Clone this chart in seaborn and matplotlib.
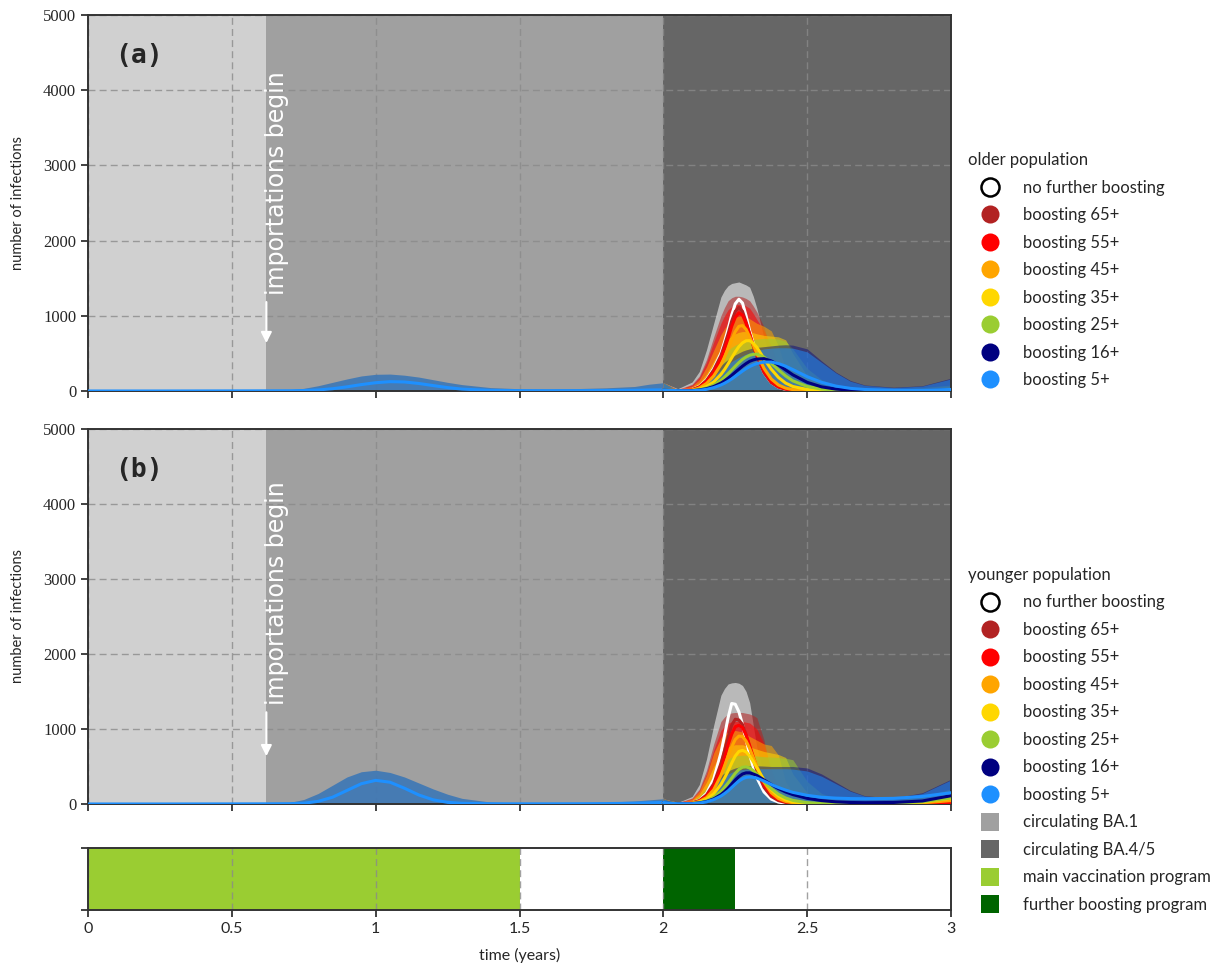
import matplotlib
matplotlib.use("Agg")
import matplotlib.pyplot as plt
from matplotlib.lines import Line2D
import pandas as pd
import seaborn as sns

# ---------------- data ----------------
T_PRE = [0, 0.25, 0.5, 0.62, 0.7, 0.75, 0.8, 0.85, 0.9, 0.95, 1.0, 1.05, 1.1, 1.15,
         1.2, 1.25, 1.3, 1.4, 1.5, 1.6, 1.7, 1.8, 1.9, 1.95, 2.0]
T_POST = [2.0, 2.05, 2.1, 2.125, 2.15, 2.175, 2.2, 2.2125, 2.225, 2.2375, 2.25, 2.2625,
          2.275, 2.2875, 2.3, 2.3125, 2.325, 2.35, 2.375, 2.4, 2.425, 2.45, 2.5, 2.55,
          2.6, 2.65, 2.7, 2.8, 2.9, 3.0]

SCENARIOS = ["no further boosting", "boosting 65+", "boosting 55+", "boosting 45+",
             "boosting 35+", "boosting 25+", "boosting 16+", "boosting 5+"]

# panel (a): older population
A_PRE_MEAN = [0, 0, 1, 2, 3, 6, 14, 30, 55, 85, 110, 124, 120, 100, 72, 45, 25, 8, 4, 3, 4, 6, 10, 13, 15]
A_PRE_UPPER = [8, 8, 8, 8, 15, 35, 70, 115, 160, 200, 222, 225, 210, 185, 150, 115, 85, 45, 30, 28, 32, 42, 60, 90, 110]

A_NONE_MEAN = [15, 5, 20, 60, 150, 300, 500, 650, 820, 1010, 1160, 1220, 1170, 1000, 800, 630, 480, 240, 110, 50, 20, 8, 3, 2, 2, 2, 2, 3, 5, 8]
A_65_MEAN = [15, 4, 18, 55, 140, 280, 470, 610, 760, 930, 1060, 1110, 1060, 920, 760, 600, 460, 240, 110, 50, 22, 10, 4, 2, 2, 2, 2, 3, 5, 8]
A_55_MEAN = [15, 4, 15, 50, 125, 250, 430, 560, 700, 860, 980, 1040, 1010, 900, 760, 610, 480, 260, 125, 60, 28, 12, 5, 3, 2, 2, 2, 3, 5, 9]
A_45_MEAN = [15, 4, 12, 40, 100, 200, 350, 450, 560, 680, 790, 860, 870, 820, 720, 610, 500, 300, 160, 80, 38, 18, 6, 3, 2, 2, 2, 3, 6, 10]
A_35_MEAN = [15, 4, 8, 25, 60, 120, 220, 285, 360, 440, 520, 590, 640, 668, 670, 635, 580, 430, 290, 180, 105, 60, 20, 8, 4, 3, 3, 4, 7, 12]
A_25_MEAN = [15, 4, 6, 18, 40, 80, 140, 182, 230, 280, 330, 378, 420, 452, 475, 487, 490, 450, 370, 280, 200, 135, 60, 25, 10, 5, 4, 5, 8, 14]
A_16_MEAN = [15, 4, 5, 14, 30, 60, 105, 135, 170, 208, 250, 290, 330, 365, 395, 413, 425, 430, 400, 345, 280, 215, 115, 55, 25, 12, 7, 6, 10, 18]
A_5_MEAN = [15, 4, 3, 10, 22, 45, 80, 103, 130, 160, 195, 230, 265, 297, 325, 347, 365, 385, 385, 365, 330, 285, 190, 115, 65, 35, 20, 10, 12, 20]

A_NONE_UPPER = [110, 30, 120, 260, 550, 900, 1250, 1340, 1400, 1430, 1440, 1450, 1430, 1410, 1380, 1260, 1100, 700, 400, 200, 100, 50, 25, 15, 10, 10, 10, 15, 20, 30]
A_65_UPPER = [110, 20, 90, 200, 420, 720, 1000, 1110, 1200, 1240, 1260, 1260, 1250, 1230, 1200, 1130, 1050, 850, 500, 250, 120, 60, 25, 12, 10, 10, 10, 15, 20, 30]
A_55_UPPER = [110, 15, 80, 180, 380, 650, 900, 1000, 1080, 1120, 1150, 1150, 1150, 1130, 1100, 1030, 950, 800, 600, 300, 150, 70, 30, 15, 10, 10, 10, 15, 20, 35]
A_45_UPPER = [110, 12, 65, 150, 320, 540, 750, 830, 900, 950, 980, 995, 1000, 985, 960, 930, 900, 860, 800, 600, 300, 150, 50, 25, 15, 12, 12, 18, 25, 45]
A_35_UPPER = [110, 10, 50, 110, 230, 400, 560, 630, 690, 730, 760, 780, 790, 790, 790, 775, 760, 740, 730, 720, 680, 500, 200, 80, 40, 25, 20, 22, 35, 60]
A_25_UPPER = [110, 8, 40, 90, 180, 310, 440, 495, 540, 580, 610, 632, 650, 667, 680, 686, 690, 700, 700, 690, 660, 560, 300, 150, 80, 50, 35, 30, 45, 80]
A_16_UPPER = [110, 6, 30, 70, 140, 240, 340, 382, 420, 452, 480, 506, 530, 547, 560, 571, 580, 590, 600, 610, 615, 610, 560, 400, 250, 140, 80, 50, 70, 170]
A_5_UPPER = [110, 5, 25, 55, 110, 190, 280, 322, 360, 392, 420, 446, 470, 491, 510, 526, 540, 560, 570, 575, 575, 570, 520, 380, 240, 130, 75, 45, 65, 160]

# panel (b): younger population
B_PRE_MEAN = [0, 0, 1, 2, 4, 10, 35, 90, 180, 270, 315, 290, 210, 120, 55, 22, 9, 3, 2, 2, 3, 5, 10, 15, 20]
B_PRE_UPPER = [8, 8, 8, 8, 20, 60, 140, 250, 360, 430, 450, 420, 360, 280, 200, 130, 75, 25, 12, 10, 15, 25, 40, 55, 70]

B_NONE_MEAN = [20, 3, 15, 50, 140, 330, 680, 910, 1150, 1340, 1330, 1230, 1060, 860, 660, 490, 350, 160, 65, 25, 10, 5, 2, 1, 1, 1, 1, 2, 3, 5]
B_65_MEAN = [20, 3, 15, 45, 120, 270, 540, 710, 890, 1050, 1130, 1120, 1060, 920, 760, 600, 440, 220, 100, 45, 20, 9, 3, 2, 1, 1, 1, 2, 4, 8]
B_55_MEAN = [20, 3, 13, 40, 105, 235, 470, 620, 790, 930, 1030, 1050, 1020, 920, 780, 630, 480, 260, 125, 58, 27, 12, 4, 2, 2, 2, 2, 3, 6, 12]
B_45_MEAN = [20, 3, 11, 33, 85, 190, 380, 505, 640, 760, 860, 905, 900, 840, 740, 620, 500, 290, 150, 72, 34, 16, 5, 3, 2, 2, 3, 6, 15, 45]
B_35_MEAN = [20, 3, 8, 25, 62, 135, 260, 345, 440, 545, 640, 700, 715, 695, 640, 565, 480, 320, 190, 105, 55, 28, 8, 3, 2, 2, 3, 8, 25, 75]
B_25_MEAN = [20, 3, 6, 18, 42, 88, 165, 220, 280, 345, 410, 460, 490, 495, 480, 445, 400, 300, 205, 130, 80, 48, 17, 7, 4, 3, 4, 10, 30, 80]
B_16_MEAN = [20, 3, 5, 14, 33, 68, 125, 165, 210, 265, 320, 365, 400, 415, 415, 400, 380, 320, 260, 205, 160, 125, 75, 45, 28, 20, 17, 20, 40, 110]
B_5_MEAN = [20, 3, 4, 12, 28, 58, 105, 138, 175, 220, 265, 305, 335, 355, 360, 355, 345, 305, 260, 220, 185, 155, 115, 90, 78, 72, 70, 75, 100, 150]

B_NONE_UPPER = [70, 20, 100, 260, 600, 1050, 1450, 1540, 1600, 1615, 1620, 1610, 1580, 1500, 1350, 1050, 750, 380, 200, 100, 50, 25, 12, 8, 6, 6, 8, 12, 20, 40]
B_65_UPPER = [70, 15, 80, 200, 450, 800, 1100, 1160, 1200, 1215, 1220, 1220, 1220, 1210, 1200, 1180, 1150, 850, 400, 180, 80, 40, 18, 10, 8, 8, 10, 15, 25, 50]
B_55_UPPER = [70, 12, 70, 180, 400, 720, 980, 1040, 1080, 1095, 1100, 1100, 1100, 1090, 1080, 1040, 1000, 800, 450, 200, 90, 45, 20, 12, 10, 10, 12, 18, 30, 60]
B_45_UPPER = [70, 12, 65, 170, 380, 680, 880, 930, 960, 975, 980, 970, 960, 930, 900, 875, 850, 800, 780, 650, 300, 150, 60, 30, 20, 15, 15, 25, 50, 110]
B_35_UPPER = [70, 10, 50, 130, 290, 500, 680, 725, 760, 780, 790, 790, 790, 775, 760, 745, 730, 700, 680, 660, 620, 400, 150, 70, 40, 30, 25, 35, 70, 150]
B_25_UPPER = [70, 8, 40, 100, 220, 380, 520, 565, 600, 625, 640, 646, 650, 650, 650, 645, 640, 630, 625, 620, 610, 590, 300, 140, 80, 50, 40, 50, 100, 200]
B_16_UPPER = [70, 6, 30, 75, 160, 280, 380, 413, 440, 462, 480, 492, 500, 506, 510, 510, 510, 505, 500, 500, 500, 500, 480, 400, 290, 180, 110, 80, 150, 330]
B_5_UPPER = [70, 5, 25, 60, 130, 240, 340, 372, 400, 422, 440, 452, 460, 466, 470, 470, 470, 470, 470, 470, 470, 465, 440, 370, 270, 170, 105, 75, 140, 320]

# background periods and programs
PERIOD_START = [0.0, 0.62, 2.0]
PERIOD_END = [0.62, 2.0, 3.0]
PROGRAM_LABELS = ["main vaccination program", "further boosting program"]
PROGRAM_START = [0.0, 2.0]
PROGRAM_END = [1.5, 2.25]
IMPORT_TIME = 0.62

X_TICKS = [0, 0.5, 1, 1.5, 2, 2.5, 3]
X_TICK_LABELS = ["0", "0.5", "1", "1.5", "2", "2.5", "3"]
Y_TICKS = [0, 1000, 2000, 3000, 4000, 5000]

# ---------------- style ----------------
COLORS = ["white", "firebrick", "red", "orange", "gold", "yellowgreen", "navy", "dodgerblue"]
BAND_ALPHA = [0.55, 0.55, 0.55, 0.55, 0.55, 0.55, 0.45, 0.5]
PERIOD_COLORS = ["#d0d0d0", "#a0a0a0", "#666666"]
PROGRAM_COLORS = ["yellowgreen", "darkgreen"]
SPINE = "#333333"

sns.set_style("ticks")
plt.rcParams["font.family"] = ["Lato", "DejaVu Sans"]

fig = plt.figure(figsize=(12.24, 9.69), dpi=100)
ax_a = fig.add_axes([0.0719, 0.5965, 0.7051, 0.3880])
ax_b = fig.add_axes([0.0719, 0.1703, 0.7051, 0.3870])
ax_s = fig.add_axes([0.0719, 0.0609, 0.7051, 0.0640])

A_MEANS = [A_NONE_MEAN, A_65_MEAN, A_55_MEAN, A_45_MEAN, A_35_MEAN, A_25_MEAN, A_16_MEAN, A_5_MEAN]
A_UPPERS = [A_NONE_UPPER, A_65_UPPER, A_55_UPPER, A_45_UPPER, A_35_UPPER, A_25_UPPER, A_16_UPPER, A_5_UPPER]
B_MEANS = [B_NONE_MEAN, B_65_MEAN, B_55_MEAN, B_45_MEAN, B_35_MEAN, B_25_MEAN, B_16_MEAN, B_5_MEAN]
B_UPPERS = [B_NONE_UPPER, B_65_UPPER, B_55_UPPER, B_45_UPPER, B_35_UPPER, B_25_UPPER, B_16_UPPER, B_5_UPPER]


def long_df(means):
    rows = []
    for name, arr in zip(SCENARIOS, means):
        for t, v in zip(T_POST, arr):
            rows.append({"t": t, "v": v, "scenario": name})
    return pd.DataFrame(rows)


def style_axes(ax):
    ax.set_xlim(0, 3)
    for sp in ax.spines.values():
        sp.set_visible(True)
        sp.set_color(SPINE)
        sp.set_linewidth(1.4)
    ax.set_axisbelow(True)
    ax.tick_params(direction="out", length=5, width=1.3, color=SPINE)


def panel(ax, pre_mean, pre_upper, means, uppers, label, text_y):
    for s, e, c in zip(PERIOD_START, PERIOD_END, PERIOD_COLORS):
        ax.axvspan(s, e, color=c, lw=0, zorder=0)
    ax.fill_between(T_PRE, 0, pre_upper, color="#3f78b5", alpha=0.92, lw=0, zorder=1)
    for up, c, a in zip(uppers, COLORS, BAND_ALPHA):
        ax.fill_between(T_POST, 0, up, color=c, alpha=a, lw=0, zorder=1)
    sns.lineplot(x=T_PRE, y=pre_mean, color="dodgerblue", lw=2.2, ax=ax, zorder=3)
    sns.lineplot(data=long_df(means), x="t", y="v", hue="scenario", hue_order=SCENARIOS,
                 palette=dict(zip(SCENARIOS, COLORS)), lw=2.2, legend=False,
                 estimator=None, sort=False, ax=ax, zorder=3)
    ax.set_ylim(0, 5000)
    ax.set_xticks(X_TICKS)
    ax.set_xticklabels([])
    ax.set_yticks(Y_TICKS)
    ax.set_yticklabels([str(v) for v in Y_TICKS], fontfamily="Liberation Serif", fontsize=12)
    ax.grid(True, linestyle=(0, (5, 3)), color="#8a8a8a", lw=1.0, alpha=0.8)
    ax.set_xlabel("")
    ax.set_ylabel("number of infections", fontsize=10.5)
    ax.yaxis.set_label_coords(-0.073, 0.5)
    style_axes(ax)
    ax.text(0.031, 0.891, label, transform=ax.transAxes, fontsize=19, fontweight="bold",
            family="DejaVu Sans Mono", ha="left", va="center", zorder=5)
    ax.annotate("", xy=(IMPORT_TIME, 600), xytext=(IMPORT_TIME, text_y - 60),
                arrowprops=dict(arrowstyle="-|>", color="white", lw=1.5, mutation_scale=16),
                zorder=5)
    ax.text(IMPORT_TIME + 0.037, text_y, "importations begin", rotation=90, color="white",
            fontsize=17, family="DejaVu Sans", ha="left", va="center",
            rotation_mode="anchor", zorder=5)


panel(ax_a, A_PRE_MEAN, A_PRE_UPPER, A_MEANS, A_UPPERS, "(a)", 1280)
panel(ax_b, B_PRE_MEAN, B_PRE_UPPER, B_MEANS, B_UPPERS, "(b)", 1320)

# program strip
for s, e, c in zip(PROGRAM_START, PROGRAM_END, PROGRAM_COLORS):
    ax_s.axvspan(s, e, color=c, lw=0, zorder=0)
ax_s.set_ylim(0, 1)
ax_s.set_yticks([0, 1])
ax_s.set_yticklabels([])
ax_s.set_xticks(X_TICKS)
ax_s.set_xticklabels(X_TICK_LABELS, fontsize=11.5)
ax_s.grid(True, axis="x", linestyle=(0, (5, 3)), color="#8a8a8a", lw=1.0, alpha=0.8)
style_axes(ax_s)
ax_s.set_xlabel("time (years)", fontsize=11.5, labelpad=9)

# legends
def circle(c, edge):
    return Line2D([], [], ls="", marker="o", markersize=13, markerfacecolor=c,
                  markeredgecolor=edge, markeredgewidth=1.8 if c == "white" else 0)


def square(c):
    return Line2D([], [], ls="", marker="s", markersize=13, markerfacecolor=c,
                  markeredgewidth=0)

LEG_KW = dict(loc="upper left", frameon=False, fontsize=12, title_fontsize=12,
              labelspacing=0.69, handlelength=2.6, handletextpad=0.7, borderpad=0.2)

h_a = [circle(c, "black" if c == "white" else c) for c in COLORS]
leg_a = fig.legend(h_a, SCENARIOS, title="older population",
                   bbox_to_anchor=(0.7815, 0.855), **LEG_KW)
leg_a._legend_box.align = "left"

h_b = h_a + [square(PERIOD_COLORS[1]), square(PERIOD_COLORS[2]),
             square(PROGRAM_COLORS[0]), square(PROGRAM_COLORS[1])]
labels_b = SCENARIOS + ["circulating BA.1", "circulating BA.4/5"] + PROGRAM_LABELS
leg_b = fig.legend(h_b, labels_b, title="younger population",
                   bbox_to_anchor=(0.7815, 0.427), **LEG_KW)
leg_b._legend_box.align = "left"

fig.savefig("out.png", dpi=100)
